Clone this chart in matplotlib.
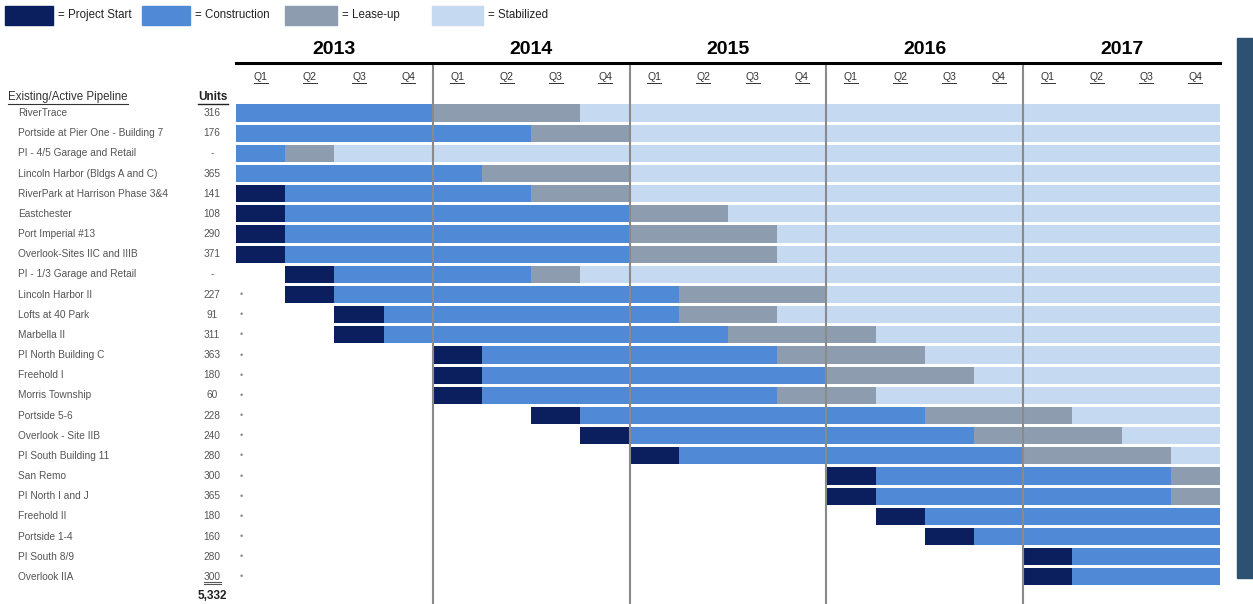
import matplotlib
matplotlib.use("Agg")
import matplotlib.pyplot as plt
from matplotlib.patches import Rectangle
from matplotlib.lines import Line2D
from matplotlib.transforms import blended_transform_factory

plt.rcParams['font.family'] = ['Liberation Sans Narrow', 'Liberation Sans', 'DejaVu Sans']

# %% data

projects = ["RiverTrace", "Portside at Pier One - Building 7", "PI - 4/5 Garage and Retail",
            "Lincoln Harbor (Bldgs A and C)", "RiverPark at Harrison Phase 3&4", "Eastchester",
            "Port Imperial #13", "Overlook-Sites IIC and IIIB", "PI - 1/3 Garage and Retail",
            "Lincoln Harbor II", "Lofts at 40 Park", "Marbella II", "PI North Building C",
            "Freehold I", "Morris Township", "Portside 5-6", "Overlook - Site IIB",
            "PI South Building 11", "San Remo", "PI North I and J", "Freehold II",
            "Portside 1-4", "PI South 8/9", "Overlook IIA"]
units = ["316", "176", "-", "365", "141", "108", "290", "371", "-", "227", "91", "311",
         "363", "180", "60", "228", "240", "280", "300", "365", "180", "160", "280", "300"]
marked = [False] * 9 + [True] * 15

# quarter index (0 = 2013 Q1) where each phase begins; None = phase not shown
start_q = [None, None, None, None, 0, 0, 0, 0, 1, 1, 2, 2, 4, 4, 4, 6, 7, 8, 12, 12, 13, 14, 16, 16]
constr_q = [0, 0, 0, 0, 1, 1, 1, 1, 2, 2, 3, 3, 5, 5, 5, 7, 8, 9, 13, 13, 14, 15, 17, 17]
lease_q = [4, 6, 1, 5, 6, 8, 8, 8, 6, 9, 9, 10, 11, 12, 11, 14, 15, 16, 19, 19, None, None, None, None]
stab_q = [7, 8, 2, 8, 8, 10, 11, 11, 7, 12, 11, 13, 14, 15, 13, 17, 18, 19, None, None, None, None, None, None]
end_q = 20

years = ["2013", "2014", "2015", "2016", "2017"]
quarters = ["Q1", "Q2", "Q3", "Q4"]

phase_names = ["= Project Start", "= Construction", "= Lease-up", "= Stabilized"]
phase_colors = ["#0B1F5E", "#5089D5", "#8E9CB0", "#C5D9F1"]

# %% layout

W, H = 1253, 604
fig = plt.figure(figsize=(W / 100, H / 100), dpi=100)

def fx(px):
    return px / W

def fy(py):
    return 1 - py / H

row0, step = 113, 20.17
ax = fig.add_axes([fx(236), fy(604), fx(1220) - fx(236), fy(65) - fy(604)])
ax.set_xlim(0, end_q)
ax.set_ylim((604 - row0) / step, (65 - row0) / step)
ax.axis("off")

# %% bars

bar_h = 0.85
for i in range(len(projects)):
    bounds = [start_q[i], constr_q[i], lease_q[i], stab_q[i]]
    for k in range(4):
        if bounds[k] is None:
            continue
        nxt = [b for b in bounds[k + 1:] if b is not None]
        right = nxt[0] if nxt else end_q
        ax.barh(i, right - bounds[k], left=bounds[k], height=bar_h,
                color=phase_colors[k], edgecolor="none", zorder=2)

for y in range(1, len(years)):
    ax.axvline(4 * y, color="#8a8a8a", lw=1.5, zorder=3)

# %% header

ax.plot([0, end_q], [(63 - row0) / step] * 2, color="black", lw=2.2, clip_on=False)
tr_x = blended_transform_factory(ax.transData, fig.transFigure)
for j, yr in enumerate(years):
    ax.text(4 * j + 2, fy(50), yr, transform=tr_x, ha="center", va="center",
            fontsize=14, fontweight="bold", color="black")
q_texts = []
for j in range(len(years)):
    for k, q in enumerate(quarters):
        t = ax.text(4 * j + k + 0.5, fy(77), q, transform=tr_x, ha="center", va="center",
                    fontsize=7.5, color="#333333")
        q_texts.append(t)

# %% left labels

tr_y = blended_transform_factory(fig.transFigure, ax.transData)
txt_col = "#555555"
for i, name in enumerate(projects):
    ax.text(fx(18), i, name, transform=tr_y, ha="left", va="center", fontsize=7.3, color=txt_col)
    ax.text(fx(212), i, units[i], transform=tr_y, ha="center", va="center", fontsize=7.3, color=txt_col)
    if marked[i]:
        ax.text(fx(241), i, "\u2022", transform=tr_y, ha="center", va="center", fontsize=6.5, color="#888888")

last_unit = ax.texts[-2]
total = sum(int(u) for u in units if u != "-")
ax.text(fx(212), len(projects) - 0.05, f"{total:,}", transform=tr_y, ha="center", va="center",
        fontsize=8.5, fontweight="bold", color="#222222")

hdr1 = fig.text(fx(8), fy(97), "Existing/Active Pipeline", ha="left", va="center",
                fontsize=8.3, color="#333333")
hdr2 = fig.text(fx(213), fy(97), "Units", ha="center", va="center",
                fontsize=8.5, fontweight="bold", color="#222222")

# %% legend

sw = [(5, 53), (142, 190), (285, 337), (432, 483)]
for (x0, x1), col, lab in zip(sw, phase_colors, phase_names):
    fig.patches.append(Rectangle((fx(x0), fy(25)), fx(x1) - fx(x0), fy(6) - fy(25),
                                 transform=fig.transFigure, color=col))
    fig.text(fx(x1 + 5), fy(15), lab, ha="left", va="center", fontsize=8.3, color="#222222")

# side bar on right edge
fig.patches.append(Rectangle((fx(1237), fy(578)), 1 - fx(1237), fy(38) - fy(578),
                             transform=fig.transFigure, color="#2D5170"))

# %% underlines

fig.canvas.draw()
rend = fig.canvas.get_renderer()

def underline(t, lw=0.8, color=None, gap=1.5):
    bb = t.get_window_extent(rend)
    y = bb.y0 - gap
    fig.add_artist(Line2D([bb.x0 / W, bb.x1 / W], [y / H, y / H], lw=lw,
                          color=color or t.get_color(), transform=fig.transFigure))

for t in q_texts:
    underline(t, lw=0.7, gap=0.5)
underline(hdr1, gap=0.5)
underline(hdr2, lw=1.0, gap=0.5)
underline(last_unit, lw=0.8, gap=0.5)
underline(last_unit, lw=0.8, gap=2.5)

fig.savefig("out.png", dpi=100)
